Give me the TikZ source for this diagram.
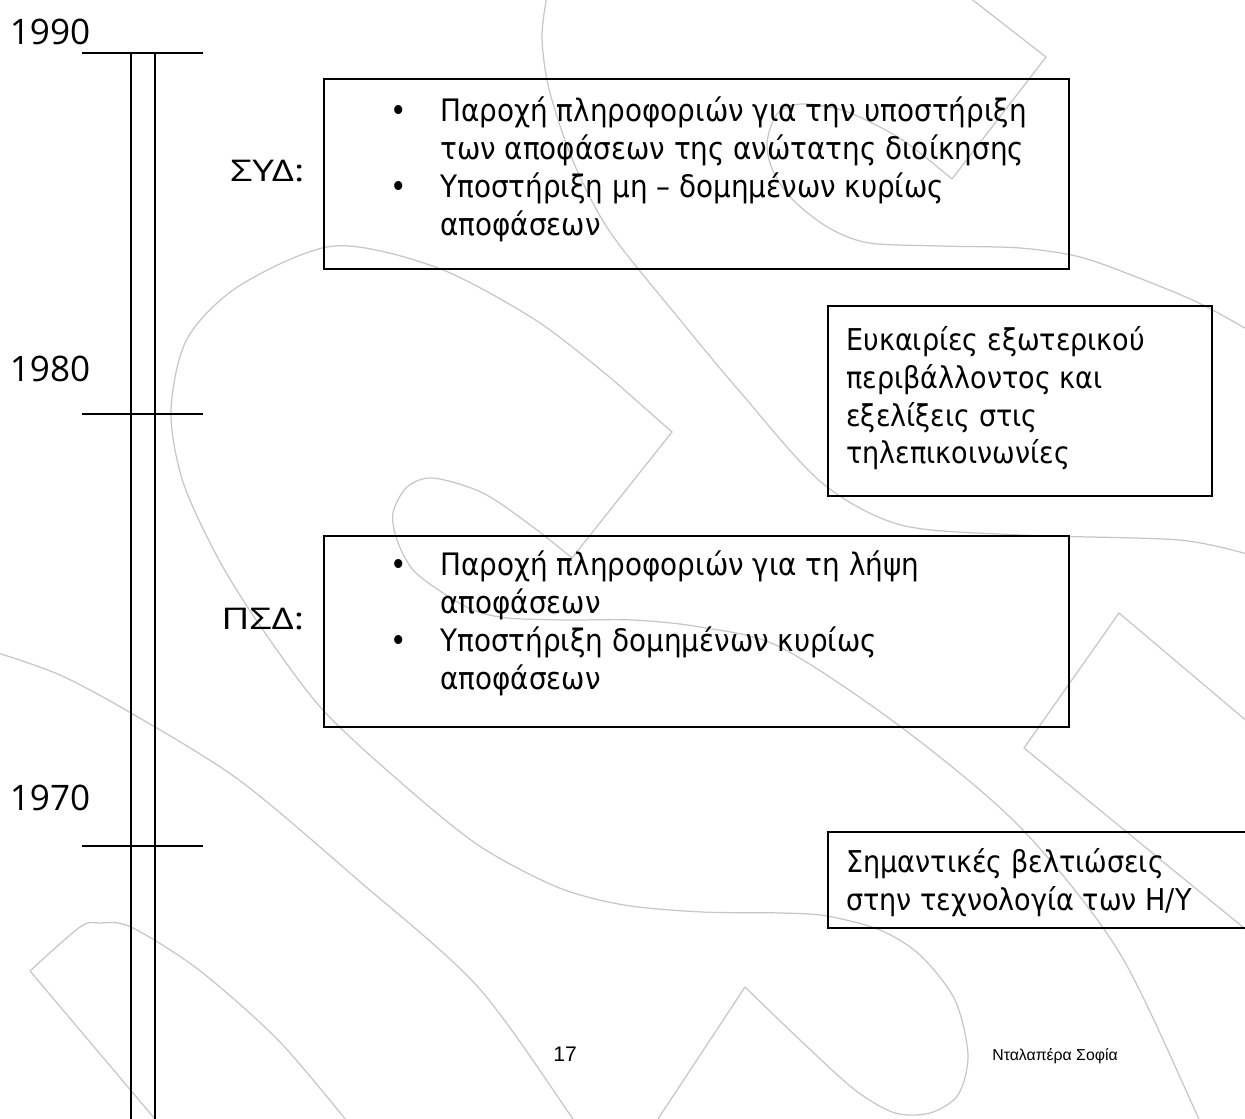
\documentclass[tikz,border=0pt]{standalone}
\usepackage{fontspec}
\setmainfont[FakeStretch=0.9]{DejaVu Sans}
\newfontfamily\yearfont{Open Sans}
\newfontfamily\tagfont[FakeStretch=1.3]{Open Sans}
\newfontfamily\footfont{Liberation Sans}
\usetikzlibrary{calc}
\tikzset{
  wm/.style={draw=gray!45, line width=0.7pt},
  axisline/.style={line width=1.1pt},
  tickline/.style={line width=0.9pt},
  box/.style={draw, line width=1.1pt, anchor=north west, inner sep=0pt},
  txt/.style={anchor=base west, inner sep=0pt},
  year/.style={txt, font=\yearfont\fontsize{20}{24}\selectfont},
  tag/.style={txt, font=\tagfont\fontsize{17}{20}\selectfont},
  bigtxt/.style={txt, font=\fontsize{17.6}{21.5}\selectfont},
  smalltxt/.style={txt, font=\fontsize{17.1}{21.4}\selectfont}
}

\begin{document}
\begin{tikzpicture}
  \useasboundingbox (0,0) rectangle (24.9,-22.38);

  % background lines
  \draw[wm] plot[smooth] coordinates {(10.96,0.2) (10.84,-0.72) (10.98,-1.78) (11.46,-3.22) (12.2,-4.64) (13.62,-6.42) (14.82,-7.86) (16.42,-9.64) (18.02,-10.5) (20.4,-10.7) (23.58,-10.8) (25.0,-11.1)};
  \draw[wm] (19.3,0.12) -- (20.92,-1.14) -- (19.04,-3.58);
  \draw[wm] plot[smooth] coordinates {(19.04,-3.58) (18.02,-2.78) (16.9,-2.22) (16.02,-2.08) (15.54,-2.28) (15.34,-2.86) (15.46,-3.42) (15.86,-4.0) (16.58,-4.56) (17.38,-4.86) (18.8,-4.92) (20.4,-4.96) (21.6,-5.14) (22.78,-5.56) (23.98,-6.06) (25.0,-6.62)};
  \draw[wm] (13.08,-22.5) -- (14.9,-19.74);
  \draw[wm] plot[smooth] coordinates {(14.9,-19.74) (16.0,-20.8) (17.1,-21.8) (17.9,-22.26) (18.6,-22.26) (19.16,-21.9) (19.36,-21.1) (19.1,-20.0) (18.4,-19.1) (17.6,-18.6) (16.54,-18.32) (15.62,-18.26) (14.04,-18.24) (12.48,-18.1) (11.14,-17.74) (9.56,-16.9) (7.96,-15.6) (6.44,-14.18) (5.26,-12.6) (4.38,-11.2) (3.66,-9.64) (3.42,-8.22) (3.74,-6.78) (4.78,-5.72) (6.68,-4.92) (8.76,-5.36) (10.74,-6.42) (12.26,-7.6)};
  \draw[wm] (12.26,-7.6) -- (13.44,-8.64) -- (11.44,-11.16);
  \draw[wm] plot[smooth] coordinates {(11.44,-11.16) (10.66,-10.54) (9.66,-9.86) (8.66,-9.56) (8.14,-9.74) (7.86,-10.26) (7.94,-10.8) (8.26,-11.4) (8.86,-11.86) (9.46,-12.2) (10.14,-12.36) (11.34,-12.4) (12.66,-12.4) (14.0,-12.54) (15.6,-12.94) (18.02,-14.54) (20.4,-16.54) (22.38,-19.04) (23.98,-22.38) (24.1,-22.6)};
  \draw[wm] (25.1,-14.56) -- (22.38,-12.26) -- (20.48,-14.96) -- (25.1,-18.74);
  \draw[wm] (3.2,-22.5) -- (0.6,-19.42);
  \draw[wm] plot[smooth] coordinates {(0.6,-19.42) (1.6,-18.54) (2.0,-18.46) (2.62,-18.54) (3.98,-19.4) (5.58,-20.82) (7.0,-22.5)};
  \draw[wm] plot[smooth] coordinates {(-0.1,-13.04) (1.2,-13.5) (2.62,-14.26) (4.78,-15.6) (7.16,-17.6) (9.56,-19.74) (11.46,-22.38) (11.55,-22.5)};

  % timeline
  \draw[axisline] (2.62,-1.06) -- (2.62,-22.5);
  \draw[axisline] (3.10,-1.06) -- (3.10,-22.5);
  \foreach \yy in {-1.06,-8.28,-16.92}
    \draw[tickline] (1.64,\yy) -- (4.06,\yy);
  \foreach \yr/\yy in {1990/-0.9, 1980/-7.64, 1970/-16.22}
    \node[year] (y\yr) at (0.19,\yy) {\yr};

  % boxes
  \node[box, minimum width=14.9cm, minimum height=3.8cm] (syd) at (6.46,-1.56) {};
  \node[box, minimum width=7.68cm, minimum height=3.8cm] (evk) at (16.54,-6.10) {};
  \node[box, minimum width=14.9cm, minimum height=3.82cm] (psd) at (6.46,-10.70) {};
  \node[box, minimum width=9.2cm, minimum height=1.92cm] (htech) at (16.54,-16.62) {};

  % box labels
  \node[tag] (sydtag) at (4.6,-3.64) {ΣΥΔ:};
  \node[tag] (psdtag) at (4.42,-12.6) {ΠΣΔ:};

  % box texts
  \node[bigtxt] (sydtxt) at (7.80,-2.44) {\begin{tabular}[t]{@{}p{1.0cm}@{}l@{}}
    \textbullet & Παροχή πληροφοριών για την υποστήριξη\\
    & των αποφάσεων της ανώτατης διοίκησης\\
    \textbullet & Υποστήριξη μη – δομημένων κυρίως\\
    & αποφάσεων
  \end{tabular}};
  \node[bigtxt] (psdtxt) at (7.80,-11.52) {\begin{tabular}[t]{@{}p{1.0cm}@{}l@{}}
    \textbullet & Παροχή πληροφοριών για τη λήψη\\
    & αποφάσεων\\
    \textbullet & Υποστήριξη δομημένων κυρίως\\
    & αποφάσεων
  \end{tabular}};
  \node[smalltxt] (evktxt) at (16.92,-7.02) {\begin{tabular}[t]{@{}l@{}}
    Ευκαιρίες εξωτερικού\\
    περιβάλλοντος και\\
    εξελίξεις στις\\
    τηλεπικοινωνίες
  \end{tabular}};
  \node[smalltxt] (htechtxt) at (16.92,-17.46) {\begin{tabular}[t]{@{}l@{}}
    Σημαντικές βελτιώσεις\\
    στην τεχνολογία των Η/Υ
  \end{tabular}};

  % footer
  \node[txt, font=\footfont\fontsize{12}{14}\selectfont] (page) at (11.06,-21.22) {17};
  \node[txt, font=\footfont\fontsize{9}{11}\selectfont] (author) at (19.84,-21.2) {Νταλαπέρα Σοφία};
\end{tikzpicture}
\end{document}
